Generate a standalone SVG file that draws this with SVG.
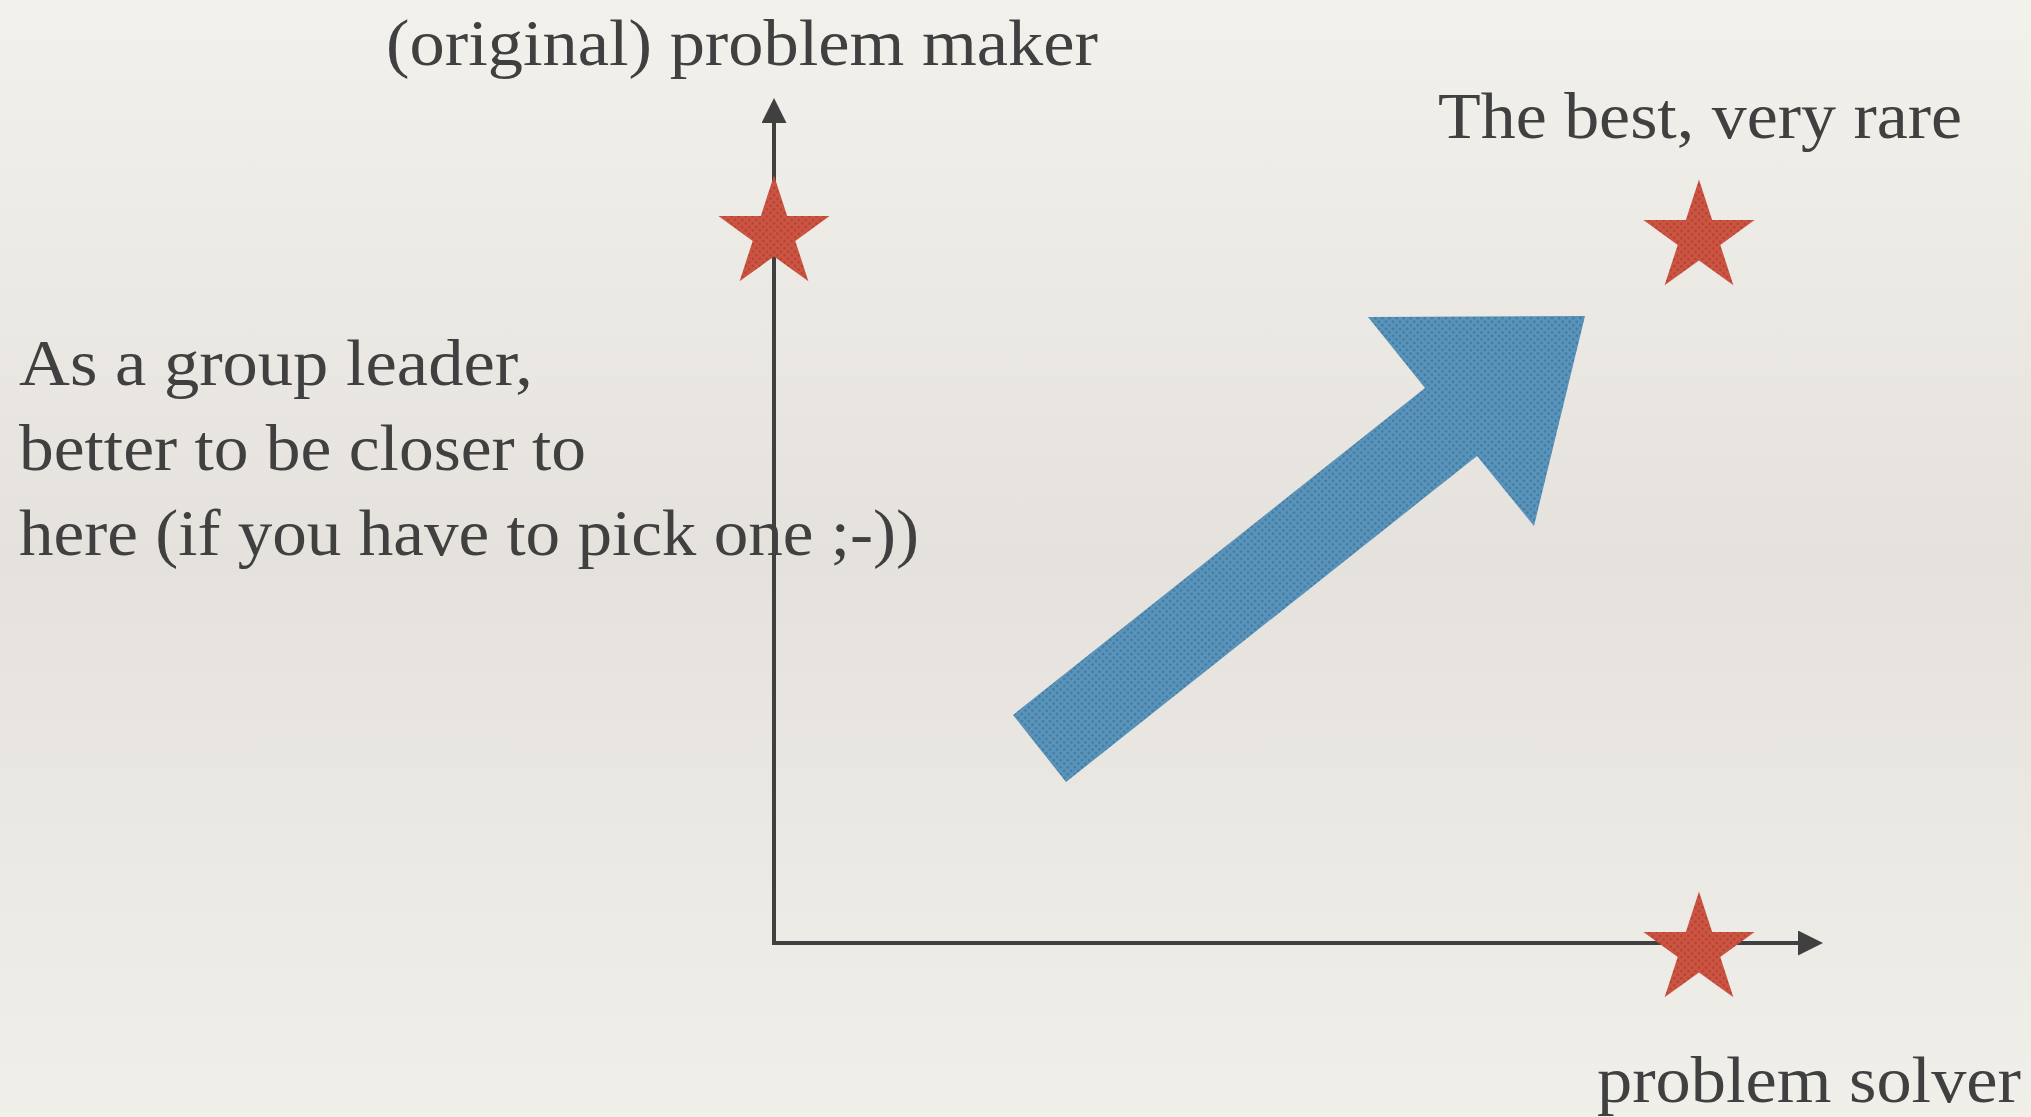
<svg xmlns="http://www.w3.org/2000/svg" width="2031" height="1117" viewBox="0 0 2031 1117">
  <style>
    .lbl { font-family: "Liberation Serif", "DejaVu Serif", serif; font-size: 66px; fill: #404040; }
    .axis { stroke: #404040; stroke-width: 4; fill: none; }
  </style>
  <defs>
    <linearGradient id="bg" x1="0" y1="0" x2="0" y2="1">
      <stop offset="0" stop-color="#f3f1ec"/>
      <stop offset="0.5" stop-color="#e5e2dd"/>
      <stop offset="1" stop-color="#f1efea"/>
    </linearGradient>
    <pattern id="redDots" patternUnits="userSpaceOnUse" width="5" height="5" patternTransform="rotate(45)">
      <rect width="5" height="5" fill="#cc5443"/>
      <circle cx="2.5" cy="2.5" r="1.3" fill="#b2412f"/>
    </pattern>
    <pattern id="blueDots" patternUnits="userSpaceOnUse" width="5" height="5" patternTransform="rotate(45)">
      <rect width="5" height="5" fill="#5a94ba"/>
      <circle cx="2.5" cy="2.5" r="1.3" fill="#3f789f"/>
    </pattern>
    <marker id="head" markerUnits="userSpaceOnUse" markerWidth="26" markerHeight="26" refX="12" refY="12.5" orient="auto" viewBox="0 0 26 26">
      <path d="M0,0 L25,12.5 L0,25 Z" fill="#404040"/>
    </marker>
    <path id="star" d="M0,-58.5 L13.17,-18.12 L55.64,-18.08 L21.3,6.92 L34.39,47.33 L0,22.4 L-34.39,47.33 L-21.3,6.92 L-55.64,-18.08 L-13.17,-18.12 Z" fill="url(#redDots)"/>
  </defs>

  <rect width="2031" height="1117" fill="url(#bg)"/>

  <g id="label-maker">
    <text class="lbl" x="386" y="65" textLength="712" lengthAdjust="spacingAndGlyphs">(original) problem maker</text>
  </g>
  <g id="label-best">
    <text class="lbl" x="1438" y="138" textLength="524" lengthAdjust="spacingAndGlyphs">The best, very rare</text>
  </g>
  <g id="label-leader">
    <text class="lbl" x="19" y="385" textLength="514" lengthAdjust="spacingAndGlyphs">As a group leader,</text>
    <text class="lbl" x="19" y="470" textLength="567" lengthAdjust="spacingAndGlyphs">better to be closer to</text>
    <text class="lbl" x="19" y="555" textLength="900" lengthAdjust="spacingAndGlyphs">here (if you have to pick one ;-))</text>
  </g>
  <g id="label-solver">
    <text class="lbl" x="1597" y="1102" textLength="424" lengthAdjust="spacingAndGlyphs">problem solver</text>
  </g>

  <g id="connectors">
    <line class="axis" x1="774" y1="943" x2="774" y2="111" marker-end="url(#head)"/>
    <line class="axis" x1="772" y1="943" x2="1810" y2="943" marker-end="url(#head)"/>
  </g>

  <g id="star-maker"><use href="#star" transform="translate(774,234)"/></g>
  <g id="star-best"><use href="#star" transform="translate(1699,238)"/></g>
  <g id="star-solver"><use href="#star" transform="translate(1699,950)"/></g>

  <g id="growth-arrow">
    <polygon points="1013,715 1425,388 1368,317 1585,316 1534,526 1477,456 1066,782" fill="url(#blueDots)"/>
  </g>
</svg>
